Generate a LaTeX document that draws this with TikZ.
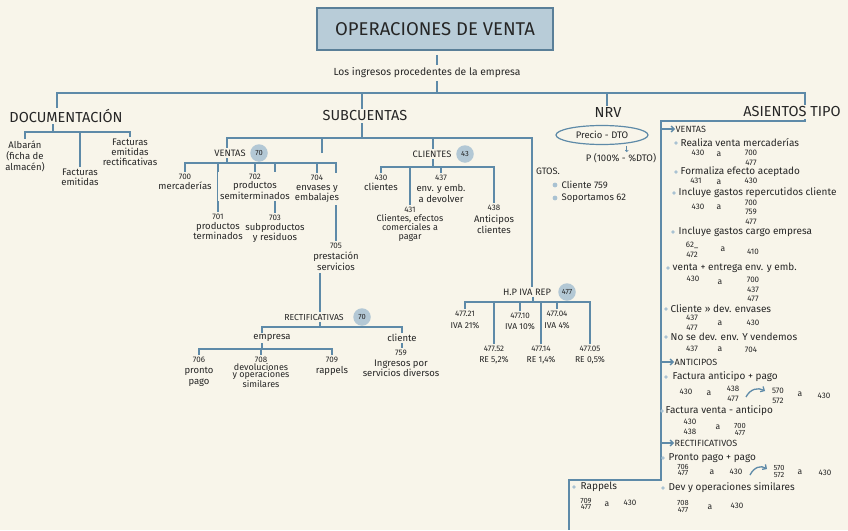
\documentclass[tikz,border=0pt]{standalone}
\usepackage{fontspec}
\setmainfont{Fira Sans}
\usetikzlibrary{arrows.meta,shapes.geometric}
\definecolor{bgc}{HTML}{F8F5EA}
\definecolor{lnc}{HTML}{5E8AA8}
\definecolor{ink}{HTML}{262626}
\definecolor{boxc}{HTML}{B8CCD8}
\definecolor{boxl}{HTML}{5A7F98}
\definecolor{circc}{HTML}{B3C8D5}
\definecolor{dotc}{HTML}{A9C2D2}
\pgfdeclarelayer{back}
\pgfdeclarelayer{lines}
\pgfsetlayers{back,lines,main}
\newcommand{\nm}[1]{{\fontsize{8}{9}\selectfont #1}}
\tikzset{
  conn/.style={draw=lnc, line width=2pt},
  thinconn/.style={draw=lnc, line width=1.3pt},
  arrhead/.style={-{Straight Barb[length=3pt,width=6pt]}},
  hdr/.style={font=\fontsize{14.5}{16}\selectfont, text=ink, inner sep=1.5pt, fill=bgc},
  grp/.style={font=\fontsize{9.3}{10}\selectfont, text=ink, inner sep=1.5pt},
  leaf/.style={font=\fontsize{9.5}{10}\selectfont, text=ink, align=center, inner sep=2pt, anchor=north, fill=bgc},
  badge/.style={circle, fill=circc, minimum size=17.5pt, inner sep=0pt, font=\fontsize{7.5}{8}\selectfont, text=ink},
  ent/.style={font=\fontsize{10}{11}\selectfont, text=ink, anchor=west, inner sep=0.5pt},
  acc/.style={font=\fontsize{8}{10}\selectfont, text=ink, align=center, inner sep=0.5pt},
  acct/.style={font=\fontsize{7.5}{6.8}\selectfont, text=ink, align=center, inner sep=0.3pt},
  aa/.style={font=\fontsize{8.5}{9}\selectfont, text=ink, inner sep=0.5pt},
  bul/.style={circle, fill=dotc, inner sep=0pt, minimum size=3.8pt},
}
\begin{document}
\begin{tikzpicture}[x=1pt,y=-1pt]
\useasboundingbox (0,0) rectangle (848,530);
\begin{pgfonlayer}{back}
\fill[bgc] (0,0) rectangle (848,530);
\end{pgfonlayer}

% ---------- title & top level ----------
\node[draw=boxl, fill=boxc, line width=1.5pt, minimum width=236pt, minimum height=42pt,
      font=\fontsize{18.5}{20}\selectfont, text=ink] (title) at (435,29) {OPERACIONES DE VENTA};
\node[font=\fontsize{10.3}{11}\selectfont, text=ink, inner sep=3pt] (ing) at (427,73) {Los ingresos procedentes de la empresa};
\coordinate (mB) at (437,93);
\coordinate (bL) at (57,93);
\coordinate (bS) at (362,93);
\coordinate (bN) at (607,93);
\coordinate (a0) at (805,93);
\coordinate (a1) at (805,121);
\coordinate (a2) at (661,121);
\coordinate (a3) at (661,480);
\coordinate (a4) at (569,480);
\coordinate (a5) at (569,530);

\node[hdr] (doc) at (66,116) {DOCUMENTACIÓN};
\node[hdr] (sub) at (365,116) {SUBCUENTAS};
\node[hdr] (nrv) at (608,113) {NRV};
\node[hdr] (asi) at (792,112) {ASIENTOS TIPO};

% ---------- documentacion ----------
\coordinate (dB) at (53,132);
\node[leaf, font=\fontsize{9.5}{11}\selectfont] (alb) at (25,139) {Albarán\\(ficha de\\almacén)};
\node[leaf] (fem) at (80,167) {Facturas\\emitidas};
\node[leaf] (fer) at (130,137) {Facturas\\emitidas\\rectificativas};

% ---------- subcuentas : ventas ----------
\coordinate (sB) at (362,138);
\coordinate (hT) at (532,138);
\coordinate (stub) at (322,153);
\node[grp] (ven) at (230,153) {VENTAS};
\node[badge] (b70) at (259,153) {70};
\coordinate (vB) at (227,163);
\node[leaf] (c700) at (185,172) {\nm{700}\\mercaderías};
\node[leaf] (c701) at (218,212) {\nm{701}\\productos\\terminados};
\node[leaf, font=\fontsize{9.5}{9}\selectfont] (c702) at (255,172) {\nm{702}\\productos\\semiterminados};
\node[leaf] (c703) at (275,213) {\nm{703}\\subproductos\\y residuos};
\node[leaf] (c704) at (317,173) {\nm{704}\\envases y\\embalajes};
\node[leaf, font=\fontsize{9.5}{11}\selectfont] (c705) at (336,241) {\nm{705}\\prestación\\servicios};

% ---------- subcuentas : clientes ----------
\node[grp] (cli) at (432,154) {CLIENTES};
\node[badge] (b43) at (465,154) {43};
\coordinate (cB) at (433,167);
\node[leaf] (c430) at (381,173) {\nm{430}\\clientes};
\node[leaf, font=\fontsize{9}{8.5}\selectfont] (c431) at (410,205) {\nm{431}\\Clientes, efectos\\comerciales a\\pagar};
\node[leaf, font=\fontsize{9.5}{11}\selectfont] (c437) at (441,173) {\nm{437}\\env. y emb.\\a devolver};
\node[leaf, font=\fontsize{9.5}{11.5}\selectfont] (c438) at (494,203) {\nm{438}\\Anticipos\\clientes};

% ---------- H.P IVA ----------
\node[grp] (hp) at (527,292) {H.P IVA REP};
\node[badge] (b477) at (567,292) {477};
\coordinate (hB) at (533,302);
\node[leaf, font=\fontsize{8.5}{11.5}\selectfont] (i21) at (465,309) {\nm{477.21}\\IVA 21\%};
\node[leaf, font=\fontsize{8.5}{11}\selectfont] (i10) at (520,311) {\nm{477.10}\\IVA 10\%};
\node[leaf, font=\fontsize{8.5}{11.5}\selectfont] (i04) at (557,309) {\nm{477.04}\\IVA 4\%};
\node[leaf, font=\fontsize{8.5}{11}\selectfont] (r52) at (494,344) {\nm{477.52}\\RE 5,2\%};
\node[leaf, font=\fontsize{8.5}{11}\selectfont] (r14) at (541,344) {\nm{477.14}\\RE 1,4\%};
\node[leaf, font=\fontsize{8.5}{11}\selectfont] (r05) at (590,344) {\nm{477.05}\\RE 0,5\%};

% ---------- rectificativas ----------
\node[grp, font=\fontsize{8.7}{10}\selectfont] (rec) at (314,317) {RECTIFICATIVAS};
\node[badge] (b70r) at (362,317) {70};
\coordinate (rB) at (320,327);
\node[grp, font=\fontsize{9.5}{10}\selectfont] (emp) at (272,338) {empresa};
\node[grp, font=\fontsize{9.5}{10}\selectfont] (clt) at (402,338) {cliente};
\coordinate (eB) at (262,349);
\node[leaf, font=\fontsize{9.5}{11}\selectfont] (c706) at (199,355) {\nm{706}\\pronto\\pago};
\node[leaf, font=\fontsize{9}{7.5}\selectfont] (c708) at (261,355) {\nm{708}\\devoluciones\\y operaciones\\similares};
\node[leaf, font=\fontsize{9.5}{11}\selectfont] (c709) at (332,355) {\nm{709}\\rappels};
\node[leaf, font=\fontsize{9.5}{10.5}\selectfont] (c759) at (401,348) {\nm{759}\\Ingresos por\\servicios diversos};

% ---------- NRV ----------
\node[draw=lnc, line width=1.2pt, ellipse, minimum width=92pt, minimum height=19pt, inner sep=0pt,
      font=\fontsize{9.5}{10}\selectfont, text=ink] (pre) at (602,135) {Precio - DTO};
\node[font=\fontsize{9.5}{10}\selectfont, text=ink, inner sep=1pt] (pf) at (621,158) {P (100\% - \%DTO)};
\node[grp] (gt) at (548,171) {GTOS.};
\node[bul, minimum size=4.8pt] (gb1) at (555,185) {};
\node[bul, minimum size=4.8pt] (gb2) at (555,198) {};
\node[ent, font=\fontsize{9.5}{10}\selectfont] (g1) at (561,185) {Cliente 759};
\node[ent, font=\fontsize{9.5}{10}\selectfont] (g2) at (561,198) {Soportamos 62};

% ---------- asientos tipo ----------
\node[ent, font=\fontsize{9}{10}\selectfont] (vh) at (675,129) {VENTAS};
\node[bul] (d1) at (676,143) {};
\node[ent] (e1) at (680,142.5) {Realiza venta mercaderías};
\node[acc] (e1a) at (698,153) {430};
\node[aa] (e1b) at (719,154) {a};
\node[acc] (e1c) at (751,158) {700\\477};

\node[bul] (d2) at (676,172) {};
\node[ent] (e2) at (680,172) {Formaliza efecto aceptado};
\node[acc] (e2a) at (696,181) {431};
\node[aa] (e2b) at (719,182) {a};
\node[acc] (e2c) at (751,181) {430};

\node[bul] (d3) at (674,193) {};
\node[ent] (e3) at (678,193) {Incluye gastos repercutidos cliente};
\node[acc] (e3a) at (698,207) {430};
\node[aa] (e3b) at (719,207) {a};
\node[acc, font=\fontsize{8}{9.5}\selectfont] (e3c) at (751,212) {700\\759\\477};

\node[bul] (d4) at (673,232) {};
\node[ent] (e4) at (678,232) {Incluye gastos cargo empresa};
\node[acc] (e4a) at (692,250) {62\_\\472};
\node[aa] (e4b) at (723,249) {a};
\node[acc] (e4c) at (753,252) {410};

\node[bul] (d5) at (668,268) {};
\node[ent] (e5) at (672,268) {venta + entrega env. y emb.};
\node[acc] (e5a) at (693,279) {430};
\node[aa] (e5b) at (720,282) {a};
\node[acc, font=\fontsize{8}{9.5}\selectfont] (e5c) at (753,289.5) {700\\437\\477};

\node[bul] (d6) at (666,309) {};
\node[ent] (e6) at (670,309) {Cliente » dev. envases};
\node[acc] (e6a) at (692,323) {437\\477};
\node[aa] (e6b) at (720,323) {a};
\node[acc] (e6c) at (753,323) {430};

\node[bul] (d7) at (666,337) {};
\node[ent] (e7) at (670,337) {No se dev. env. Y vendemos};
\node[acc] (e7a) at (692,349) {437};
\node[aa] (e7b) at (720,349) {a};
\node[acc] (e7c) at (751,350) {704};

\node[ent, font=\fontsize{9}{10}\selectfont] (ah) at (674,362) {ANTICIPOS};
\node[bul] (d8) at (666,377) {};
\node[ent] (e8) at (672,377) {Factura anticipo + pago};
\node[acc] (e8a) at (686,392) {430};
\node[aa] (e8b) at (709,393) {a};
\node[acc] (e8c) at (733,394) {438\\477};
\coordinate (q1s) at (746,397);
\coordinate (q1e) at (765,391);
\node[acc] (e8d) at (778,396) {570\\572};
\node[aa] (e8e) at (800,394) {a};
\node[acc] (e8f) at (824,396) {430};

\node[bul] (d9) at (662,411) {};
\node[ent] (e9) at (665,411) {Factura venta - anticipo};
\node[acc] (e9a) at (690,427) {430\\438};
\node[aa] (e9b) at (718,427) {a};
\node[acct] (e9c) at (740,429.5) {700\\477};

\node[ent, font=\fontsize{9}{10}\selectfont] (rh) at (674,443) {RECTIFICATIVOS};
\node[bul] (d10) at (663,458) {};
\node[ent] (e10) at (668,458) {Pronto pago + pago};
\node[acct] (e10a) at (683,470) {706\\477};
\node[aa] (e10b) at (712,472) {a};
\node[acc] (e10c) at (736,472) {430};
\coordinate (q2s) at (750,475);
\coordinate (q2e) at (767,469);
\node[acct] (e10d) at (779,471.5) {570\\572};
\node[aa] (e10e) at (800,472) {a};
\node[acc] (e10f) at (825,473) {430};

\node[bul] (d11) at (663,488) {};
\node[ent] (e11) at (668,488) {Dev y operaciones similares};
\node[acct] (e11a) at (683,506.5) {708\\477};
\node[aa] (e11b) at (710,507) {a};
\node[acc] (e11c) at (737,506) {430};

\node[bul] (d12) at (574,487) {};
\node[ent] (rp) at (580,487) {Rappels};
\node[acct] (rpa) at (586,504) {709\\477};
\node[aa] (rpb) at (607,504) {a};
\node[acc] (rpc) at (630,503) {430};

% ---------- connectors ----------
\begin{pgfonlayer}{lines}
\draw[conn, shorten <=4pt] (title.south -| mB) -- (ing.north -| mB);
\draw[conn] (ing.south -| mB) -- (mB);
\draw[conn] (bL |- doc.north) -- (bL) -- (a0) -- (a1) -- (a2) -- (a3) -- (a4) -- (a5);
\draw[conn] (bS) -- (bS |- sub.north);
\draw[conn] (bN) -- (bN |- nrv.north);
% documentacion
\draw[conn] (dB |- doc.south) -- (dB);
\draw[conn] (alb.north) |- (dB);
\draw[conn] (fem.north) |- (dB);
\draw[conn] (fer.north) |- (dB);
% subcuentas
\draw[conn] (sB |- sub.south) -- (sB);
\draw[conn] (vB |- ven.north) |- (hT) -- (hT |- hp.north);
\draw[conn] (cB |- cli.north) -- (cB |- sB);
\draw[conn] (stub) -- (stub |- sB);
% ventas
\draw[conn] (vB |- ven.south) -- (vB);
\draw[conn] (c700.north) |- (vB);
\draw[conn] (c701.north) |- (vB);
\draw[conn] (c702.north) |- (vB);
\draw[conn] (c703.north) |- (vB);
\draw[conn] (c704.north) |- (vB);
\draw[conn] (c705.north) |- (vB);
% clientes
\draw[conn] (cB |- cli.south) -- (cB);
\draw[conn] (c430.north) |- (cB);
\draw[conn] (c431.north) |- (cB);
\draw[conn] (c437.north) |- (cB);
\draw[conn] (c438.north) |- (cB);
% iva
\draw[conn] (hB |- hp.south) -- (hB);
\draw[conn] (i21.north) |- (hB);
\draw[conn] (i10.north) |- (hB);
\draw[conn] (i04.north) |- (hB);
\draw[conn] (r52.north) |- (hB);
\draw[conn] (r14.north) |- (hB);
\draw[conn] (r05.north) |- (hB);
% rectificativas
\draw[conn] (rB |- c705.south) -- (rB |- rec.north);
\draw[conn] (rB |- rec.south) -- (rB);
\draw[conn] (eB |- emp.north) |- (rB);
\draw[conn] (clt.north) |- (rB);
\draw[conn] (eB |- emp.south) -- (eB);
\draw[conn] (c706.north) |- (eB);
\draw[conn] (c708.north) |- (eB);
\draw[conn] (c709.north) |- (eB);
\draw[conn] (clt.south) -- (clt.south |- c759.north);
% nrv
\draw[draw=lnc, line width=0.7pt, -{Straight Barb[length=1.5pt,width=3pt]}, shorten <=2pt] (pre.-19) -- (pre.-19 |- pf.north);
% asientos arrows
\draw[thinconn, arrhead] (a2 |- vh.west) -- (vh.west);
\draw[thinconn, arrhead] (a2 |- ah.west) -- (ah.west);
\draw[thinconn, arrhead] (a2 |- rh.west) -- (rh.west);
\draw[thinconn, arrhead] (q1s) .. controls (750,389) and (758,387) .. (q1e);
\draw[thinconn, arrhead] (q2s) .. controls (754,467) and (761,465) .. (q2e);
\end{pgfonlayer}
\end{tikzpicture}
\end{document}
